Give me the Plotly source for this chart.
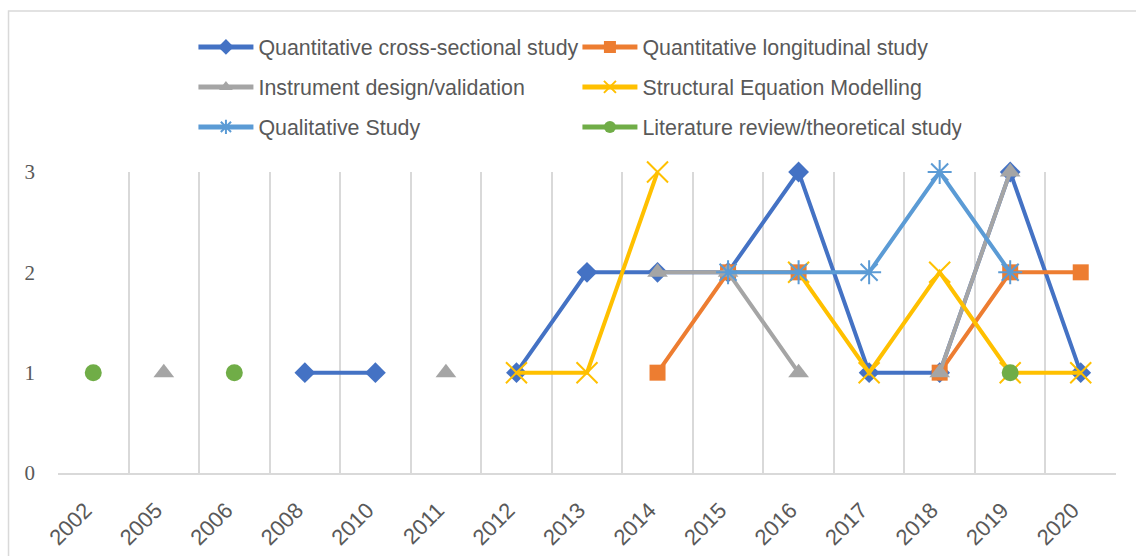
import plotly.graph_objects as go

# Publication years (categorical x axis)
years = ["2002", "2005", "2006", "2008", "2010", "2011", "2012", "2013",
         "2014", "2015", "2016", "2017", "2018", "2019", "2020"]

# Number of studies per year for each design (None = no study that year)
cross_sectional = [None, None, None, 1, 1, None, 1, 2, 2, 2, 3, 1, 1, 3, 1]
longitudinal = [None, None, None, None, None, None, None, None, 1, 2, 2, None, 1, 2, 2]
instrument = [None, 1, None, None, None, 1, None, None, 2, 2, 1, None, 1, 3, None]
sem = [None, None, None, None, None, None, 1, 1, 3, None, 2, 1, 2, 1, 1]
qualitative = [None, None, None, None, None, None, None, None, None, 2, 2, 2, 3, 2, None]
literature = [1, None, 1, None, None, None, None, None, None, None, None, None, None, 1, None]

series = [
    ("Quantitative cross-sectional study", cross_sectional, "#4472C4", "diamond", 16, 0, "legend"),
    ("Quantitative longitudinal study", longitudinal, "#ED7D31", "square", 16, 0, "legend"),
    ("Instrument design/validation", instrument, "#A5A5A5", "triangle-up", 18, 0, "legend2"),
    ("Structural Equation Modelling", sem, "#FFC000", "x-thin-open", 21, 2, "legend2"),
    ("Qualitative Study", qualitative, "#5B9BD5", "asterisk-open", 20, 2, "legend3"),
    ("Literature review/theoretical study", literature, "#70AD47", "circle", 17, 0, "legend3"),
]

fig = go.Figure()
for name, vals, color, symbol, msize, mlw, leg in series:
    fig.add_trace(go.Scatter(
        x=years, y=vals, name=name, mode="lines+markers",
        connectgaps=False, cliponaxis=False, legend=leg,
        line=dict(color=color, width=4),
        marker=dict(symbol=symbol, size=msize, color=color,
                    line=dict(color=color, width=mlw)),
    ))

# Plot area geometry in pixels
W, H = 1136, 556
L, R, T, B = 57.5, 1116, 172, 473
pw, ph = R - L, B - T


def px_x(x):
    return (x - L) / pw


def px_y(y):
    return (B - y) / ph


legend_font = dict(family="Liberation Sans, Arial", size=21.4, color="#595959")
legend_common = dict(orientation="h", xanchor="left", yanchor="middle",
                     x=px_x(193), font=legend_font, bgcolor="rgba(0,0,0,0)",
                     entrywidth=314, entrywidthmode="pixels", itemwidth=55,
                     itemsizing="constant")

fig.update_layout(
    width=W, height=H,
    margin=dict(l=L, r=W - R, t=T, b=H - B, pad=0, autoexpand=False),
    plot_bgcolor="white", paper_bgcolor="white",
    showlegend=True,
    legend=dict(y=px_y(47), **legend_common),
    legend2=dict(y=px_y(87), **legend_common),
    legend3=dict(y=px_y(127), **legend_common),
    xaxis=dict(
        type="category", range=[-0.5, len(years) - 0.5], automargin=False,
        tickson="boundaries", showgrid=True, gridcolor="#D9D9D9", gridwidth=1.5,
        showline=True, linecolor="#D9D9D9", linewidth=1.5,
        tickangle=-45, ticks="", ticklabelstandoff=14, ticklabelshift=-8,
        tickfont=dict(family="Liberation Sans, Arial", size=22, color="#595959"),
        zeroline=False,
    ),
    yaxis=dict(
        range=[0, 3], tickvals=[0, 1, 2, 3], showgrid=False, zeroline=False,
        showline=False, ticks="", ticklabelstandoff=22, automargin=False,
        tickfont=dict(family="Liberation Serif, Times New Roman", size=21, color="#595959"),
    ),
    shapes=[dict(type="rect", xref="paper", yref="paper",
                 x0=px_x(8), x1=px_x(1250), y0=px_y(700), y1=px_y(11),
                 line=dict(color="#D9D9D9", width=1.5), fillcolor="rgba(0,0,0,0)",
                 layer="below")],
)

fig.write_html("out.html")
